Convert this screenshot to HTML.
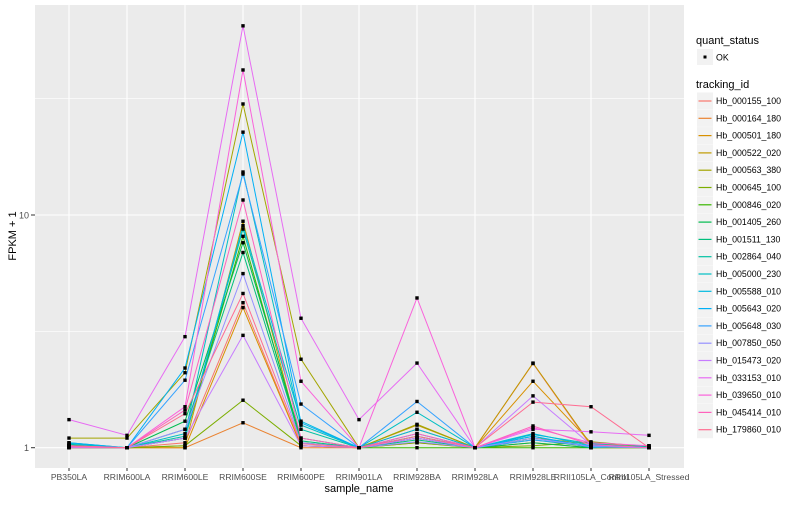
<!DOCTYPE html>
<html><head><meta charset="utf-8"><style>
body{margin:0;background:#fff;width:800px;height:500px;overflow:hidden;font-family:"Liberation Sans",sans-serif}
</style></head><body>
<svg id="chart" width="800" height="500" xmlns="http://www.w3.org/2000/svg" font-family="Liberation Sans, sans-serif"></svg>
<script>
const categories=["PB350LA","RRIM600LA","RRIM600LE","RRIM600SE","RRIM600PE","RRIM901LA","RRIM928BA","RRIM928LA","RRIM928LE","RRII105LA_Control","RRII105LA_Stressed"];
const seriesNames=["Hb_000155_100","Hb_000164_180","Hb_000501_180","Hb_000522_020","Hb_000563_380","Hb_000645_100","Hb_000846_020","Hb_001405_260","Hb_001511_130","Hb_002864_040","Hb_005000_230","Hb_005588_010","Hb_005643_020","Hb_005648_030","Hb_007850_050","Hb_015473_020","Hb_033153_010","Hb_039650_010","Hb_045414_010","Hb_179860_010"];
const seriesColors=["#F8766D","#EA8331","#D89000","#C09B00","#A3A500","#7CAE00","#39B600","#00BB4E","#00BF7D","#00C1A3","#00BFC4","#00BAE0","#00B0F6","#35A2FF","#9590FF","#C77CFF","#E76BF3","#FA62DB","#FF62BC","#FF6C91"];
const s01=[1.02,1,1.05,4.2,1.02,1,1.1,1,2.3,1.02,1];
const s02=[1,1,1,1.28,1,1,1.05,1,1.05,1,1];
const s03=[1,1,1,4.0,1.02,1,1.2,1,1.93,1.05,1];
const s04=[1.01,1,1.02,9.4,1.05,1,1.25,1,2.31,1.03,1];
const s05=[1.1,1.1,2.1,30,2.4,1,1.26,1,1.1,1.04,1];
const s06=[1.02,1,1.02,1.6,1.02,1,1.05,1,1.02,1.06,1.01];
const s07=[1,1,1.1,8.1,1.05,1,1,1,1,1,1];
const s08=[1.01,1,1.3,7.6,1.1,1,1.12,1,1.05,1,1.02];
const s09=[1.03,1,1.2,6.9,1.07,1,1.08,1,1.08,1.01,1.01];
const s10=[1.05,1,1.12,8.7,1.2,1,1.1,1,1.12,1,1.02];
const s11=[1.04,1,1.15,15.3,1.25,1,1.42,1,1.14,1.04,1];
const s12=[1.02,1,1.1,9,1.3,1,1.2,1,1.15,1.02,1];
const s13=[1.05,1,2.2,22.7,1.28,1,1.15,1,1.12,1.01,1];
const s14=[1.02,1,1.95,15,1.54,1,1.58,1,1.08,1.02,1];
const s15=[1.01,1,1.2,5.6,1.05,1,1.06,1,1.1,1.01,1];
const s16=[1,1,1.1,3.04,1.02,1,1.1,1,1.67,1.03,1];
const s17=[1.32,1.13,3.0,65,3.6,1.32,2.31,1,1.2,1.17,1.13];
const s18=[1.02,1,1.5,42,1.93,1,4.4,1,1.22,1.05,1.02];
const s19=[1.01,1,1.45,11.6,1.1,1,1.15,1,1.24,1.03,1];
const s20=[1.02,1,1.4,4.6,1.04,1,1.12,1,1.57,1.5,1];
const seriesValues=[s01,s02,s03,s04,s05,s06,s07,s08,s09,s10,s11,s12,s13,s14,s15,s16,s17,s18,s19,s20];
const yTicks=[1,10];
const yMinor=[3.1623,31.623];

const NS="http://www.w3.org/2000/svg";
const svg=document.getElementById('chart');
const P={l:35,r:684,t:5,b:468};
function xS(i){return 69+i*58;}
function yS(v){return 447.7-Math.log10(v)*232.7;}
function mk(tag,attrs,parent){const e=document.createElementNS(NS,tag);for(const k in attrs)e.setAttribute(k,attrs[k]);(parent||svg).appendChild(e);return e;}

const panel=mk('rect',{x:P.l,y:P.t,width:P.r-P.l,height:P.b-P.t,fill:'#EBEBEB'});


yMinor.forEach(v=>{const g=mk('line',{x1:P.l,x2:P.r,y1:yS(v),y2:yS(v),stroke:'#fff','stroke-width':0.6});

});
yTicks.forEach(v=>{const g=mk('line',{x1:P.l,x2:P.r,y1:yS(v),y2:yS(v),stroke:'#fff','stroke-width':1.1});


const t=mk('line',{x1:31,x2:P.l,y1:yS(v),y2:yS(v),stroke:'#333','stroke-width':1});


const l=mk('text',{x:29,y:yS(v)+3.5,'text-anchor':'end','font-size':9,fill:'#4d4d4d'});l.textContent=v;

});
categories.forEach((c,i)=>{const g=mk('line',{x1:xS(i),x2:xS(i),y1:P.t,y2:P.b,stroke:'#fff','stroke-width':1.1});


const t=mk('line',{x1:xS(i),x2:xS(i),y1:P.b,y2:P.b+3,stroke:'#333','stroke-width':1});


const l=mk('text',{x:xS(i),y:480,'text-anchor':'middle','font-size':8.6,fill:'#4d4d4d'});l.textContent=c;

});
seriesValues.forEach((arr,si)=>{const pts=arr.map((v,i)=>xS(i).toFixed(1)+','+yS(v).toFixed(1)).join(' ');
const pl=mk('polyline',{points:pts,fill:'none',stroke:seriesColors[si],'stroke-width':1});

});
seriesValues.forEach((arr,si)=>{arr.forEach((v,i)=>{const p=mk('rect',{x:xS(i)-1.7,y:yS(v)-1.7,width:3.4,height:3.4,fill:'#000'});

});});
const xt=mk('text',{x:359,y:492,'text-anchor':'middle','font-size':11,fill:'#000'});xt.textContent='sample_name';


const yt=mk('text',{x:0,y:0,'text-anchor':'middle','font-size':11,fill:'#000',transform:'translate(16,236) rotate(-90)'});yt.textContent='FPKM + 1';


// legend
const lt1=mk('text',{x:696,y:44,'font-size':11,fill:'#000'});lt1.textContent='quant_status';


const kb=mk('rect',{x:697,y:49,width:16,height:16,fill:'#F2F2F2'});


mk('rect',{x:703.5,y:55.5,width:3,height:3,fill:'#000'});
const okt=mk('text',{x:716,y:60.5,'font-size':8.8,fill:'#000'});okt.textContent='OK';


const lt2=mk('text',{x:696,y:88,'font-size':11,fill:'#000'});lt2.textContent='tracking_id';


seriesNames.forEach((n,i)=>{const y=101+i*17.3;
const b=mk('rect',{x:697,y:y-8.5,width:16,height:17,fill:'#F2F2F2'});


const ln=mk('line',{x1:698.5,x2:711.5,y1:y,y2:y,stroke:seriesColors[i],'stroke-width':1.2});


const t=mk('text',{x:716,y:y+3,'font-size':8.8,fill:'#000'});t.textContent=n;

});
</script>
</body></html>
